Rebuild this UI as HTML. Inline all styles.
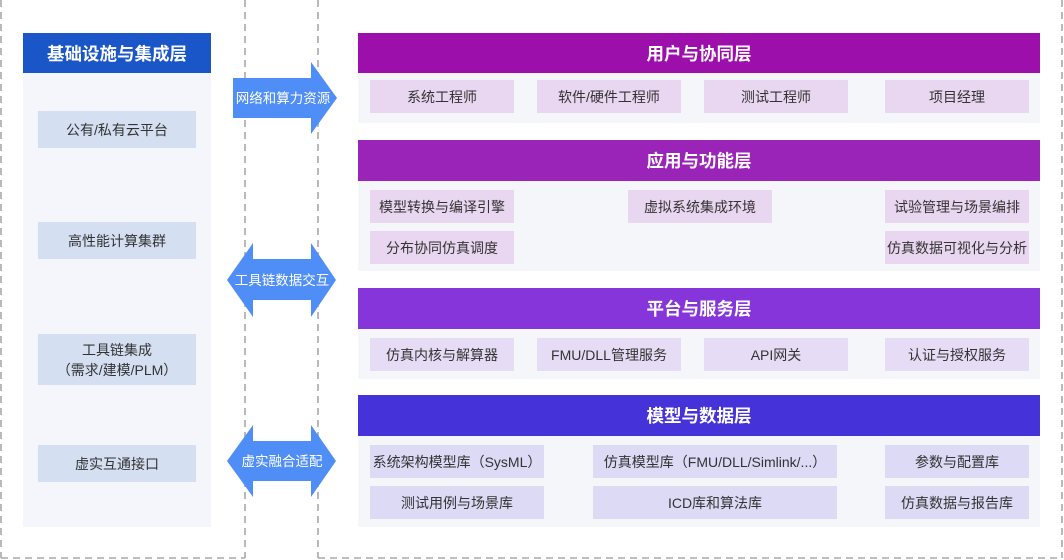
<!DOCTYPE html>
<html><head><meta charset="utf-8"><style>
*{margin:0;padding:0;box-sizing:border-box}
body{width:1064px;height:560px;background:#fff;position:relative;overflow:hidden;font-family:"Liberation Sans","Noto Sans CJK SC",sans-serif;}
div{position:absolute}
.c{display:flex;align-items:center;justify-content:center;text-align:center}
.it{font-size:14px;color:#333;white-space:nowrap}
.hd{color:#fff;font-size:17.5px;font-weight:bold}
.b{background:#f5f6fa}
</style></head><body>
<svg style="position:absolute;left:0;top:0" width="1064" height="560">
<g stroke="#a8a8a8" stroke-width="1.6" stroke-dasharray="7,5" fill="none">
<line x1="1" y1="0" x2="1" y2="558"/>
<line x1="245" y1="0" x2="245" y2="558"/>
<line x1="1" y1="558" x2="245" y2="558"/>
<line x1="318" y1="0" x2="318" y2="558"/>
<line x1="1062" y1="0" x2="1062" y2="558"/>
<line x1="318" y1="558" x2="1062" y2="558"/>
</g>
</svg>

<div style="left:23px;top:33px;width:188px;height:494px;background:#f4f6fb"></div>
<div class="c hd" style="left:23px;top:33px;width:188px;height:40px;background:#1a56c8">基础设施与集成层</div>
<div class="c it" style="left:38px;top:111px;width:158px;height:37px;background:#d4dff2">公有/私有云平台</div>
<div class="c it" style="left:38px;top:222px;width:158px;height:37px;background:#d4dff2">高性能计算集群</div>
<div class="c it" style="left:38px;top:334px;width:158px;height:51px;background:#d4dff2;line-height:20px">工具链集成<br>（需求/建模/PLM）</div>
<div class="c it" style="left:38px;top:445px;width:158px;height:37px;background:#d4dff2">虚实互通接口</div>

<svg style="position:absolute;left:0;top:0" width="1064" height="560">
<polygon points="233,78 311,78 311,62 337,98 311,134 311,118 233,118" fill="#4f8ef7"/>
<polygon points="227,280 253,243 253,259 311,259 311,243 336,280 311,317 311,300 253,300 253,317" fill="#4f8ef7"/>
<polygon points="227,461 253,425 253,441 311,441 311,425 336,461 311,497 311,481 253,481 253,497" fill="#4f8ef7"/>
<text x="283" y="103" fill="#fff" font-size="13.5" text-anchor="middle" font-family="Liberation Sans,Noto Sans CJK SC,sans-serif">网络和算力资源</text>
<text x="282" y="285" fill="#fff" font-size="13.5" text-anchor="middle" font-family="Liberation Sans,Noto Sans CJK SC,sans-serif">工具链数据交互</text>
<text x="282" y="466" fill="#fff" font-size="13.5" text-anchor="middle" font-family="Liberation Sans,Noto Sans CJK SC,sans-serif">虚实融合适配</text>
</svg>

<div class="b" style="left:358px;top:33px;width:682px;height:90px"></div>
<div class="c hd" style="left:358px;top:33px;width:682px;height:40px;background:#9c0fab">用户与协同层</div>
<div class="c it" style="left:370px;top:80px;width:144px;height:33px;background:#e9d6f0">系统工程师</div>
<div class="c it" style="left:537px;top:80px;width:144px;height:33px;background:#e9d6f0">软件/硬件工程师</div>
<div class="c it" style="left:704px;top:80px;width:144px;height:33px;background:#e9d6f0">测试工程师</div>
<div class="c it" style="left:885px;top:80px;width:144px;height:33px;background:#e9d6f0">项目经理</div>

<div class="b" style="left:358px;top:140px;width:682px;height:131px"></div>
<div class="c hd" style="left:358px;top:140px;width:682px;height:41px;background:#9b24b8">应用与功能层</div>
<div class="c it" style="left:370px;top:190px;width:144px;height:33px;background:#e9d6f0">模型转换与编译引擎</div>
<div class="c it" style="left:628px;top:190px;width:144px;height:33px;background:#e9d6f0">虚拟系统集成环境</div>
<div class="c it" style="left:885px;top:190px;width:144px;height:33px;background:#e9d6f0">试验管理与场景编排</div>
<div class="c it" style="left:370px;top:231px;width:144px;height:33px;background:#e9d6f0">分布协同仿真调度</div>
<div class="c it" style="left:885px;top:231px;width:144px;height:33px;background:#e9d6f0">仿真数据可视化与分析</div>

<div class="b" style="left:358px;top:288px;width:682px;height:91px"></div>
<div class="c hd" style="left:358px;top:288px;width:682px;height:41px;background:#8535d9">平台与服务层</div>
<div class="c it" style="left:370px;top:338px;width:144px;height:33px;background:#e6dcf5">仿真内核与解算器</div>
<div class="c it" style="left:537px;top:338px;width:144px;height:33px;background:#e6dcf5">FMU/DLL管理服务</div>
<div class="c it" style="left:704px;top:338px;width:144px;height:33px;background:#e6dcf5">API网关</div>
<div class="c it" style="left:885px;top:338px;width:144px;height:33px;background:#e6dcf5">认证与授权服务</div>

<div class="b" style="left:358px;top:395px;width:682px;height:132px"></div>
<div class="c hd" style="left:358px;top:395px;width:682px;height:41px;background:#4533d9">模型与数据层</div>
<div class="c it" style="left:370px;top:445px;width:174px;height:33px;background:#dcdaf5">系统架构模型库（SysML）</div>
<div class="c it" style="left:593px;top:445px;width:244px;height:33px;background:#dcdaf5">仿真模型库（FMU/DLL/Simlink/...）</div>
<div class="c it" style="left:885px;top:445px;width:144px;height:33px;background:#dcdaf5">参数与配置库</div>
<div class="c it" style="left:370px;top:486px;width:174px;height:33px;background:#dcdaf5">测试用例与场景库</div>
<div class="c it" style="left:593px;top:486px;width:244px;height:33px;background:#dcdaf5">ICD库和算法库</div>
<div class="c it" style="left:885px;top:486px;width:144px;height:33px;background:#dcdaf5">仿真数据与报告库</div>
</body></html>
